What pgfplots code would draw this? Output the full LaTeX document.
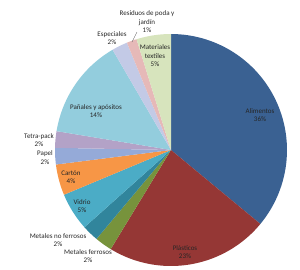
\documentclass[border=0pt]{standalone}
\usepackage{fontspec}
\setmainfont{Carlito}
\usepackage{pgfplots}
\usepackage{pgfplotstable}
\pgfplotsset{compat=1.18}
\definecolor{c1}{HTML}{3A6192}
\definecolor{c2}{HTML}{953735}
\definecolor{c3}{HTML}{77933C}
\definecolor{c4}{HTML}{31859C}
\definecolor{c5}{HTML}{4BACC6}
\definecolor{c6}{HTML}{F79646}
\definecolor{c7}{HTML}{95AAD8}
\definecolor{c8}{HTML}{B3A2C7}
\definecolor{c9}{HTML}{93CDDD}
\definecolor{c10}{HTML}{C3CAE6}
\definecolor{c11}{HTML}{E6B9B8}
\definecolor{c12}{HTML}{D7E4BD}
\pgfplotstableread{
value col
36.0 c1
22.7 c2
2.4 c3
2.3 c4
5.3 c5
4.3 c6
2.3 c7
2.3 c8
14.0 c9
2.2 c10
1.4 c11
4.8 c12
}\piedata
\begin{document}
\begin{tikzpicture}
\begin{axis}[hide axis, scale only axis, width=300pt, height=269pt,
  xmin=0, xmax=300, ymin=0, ymax=269, clip=false, no markers]
\path (axis cs:0,0) rectangle (axis cs:300,269);
\pgfplotstablegetrowsof{\piedata}
\pgfmathtruncatemacro\nrows{\pgfplotsretval-1}
\def\cum{0}
\pgfplotsforeachungrouped \i in {0,...,\nrows}{%
  \pgfplotstablegetelem{\i}{value}\of\piedata \let\v\pgfplotsretval
  \pgfplotstablegetelem{\i}{col}\of\piedata \let\c\pgfplotsretval
  \pgfmathsetmacro\aS{90-3.6*\cum}%
  \pgfmathsetmacro\aE{90-3.6*(\cum+\v)}%
  \pgfmathsetmacro\cum{\cum+\v}%
  \edef\temp{\noexpand\addplot[fill=\c, draw=none, domain=\aE:\aS, samples=60] ({171+116*cos(x)},{119+116*sin(x)}) -- (axis cs:171,119) -- cycle;}%
  \temp
}
\begin{scope}[every node/.style={align=center, text=black!85, font=\fontsize{7}{8.5}\selectfont}]
\node at (axis cs:260,154) {Alimentos\\36\%};
\node at (axis cs:185,17) {Plásticos\\23\%};
\node at (axis cs:88,13) {Metales ferrosos\\2\%};
\node at (axis cs:58,29) {Metales no ferrosos\\2\%};
\node at (axis cs:82,63) {Vidrio\\5\%};
\node at (axis cs:71,92) {Cartón\\4\%};
\node at (axis cs:45,111.5) {Papel\\2\%};
\node at (axis cs:39,129) {Tetra-pack\\2\%};
\node at (axis cs:96,158) {Pañales y apósitos\\14\%};
\node at (axis cs:112,231) {Especiales\\2\%};
\node at (axis cs:155,213) {Materiales\\textiles\\5\%};
\node at (axis cs:147,247) {Residuos de poda y\\jardín\\1\%};
\end{scope}
\draw[black!60, line width=0.4pt] (axis cs:137,237) -- (axis cs:132,227);
\end{axis}
\end{tikzpicture}
\end{document}
